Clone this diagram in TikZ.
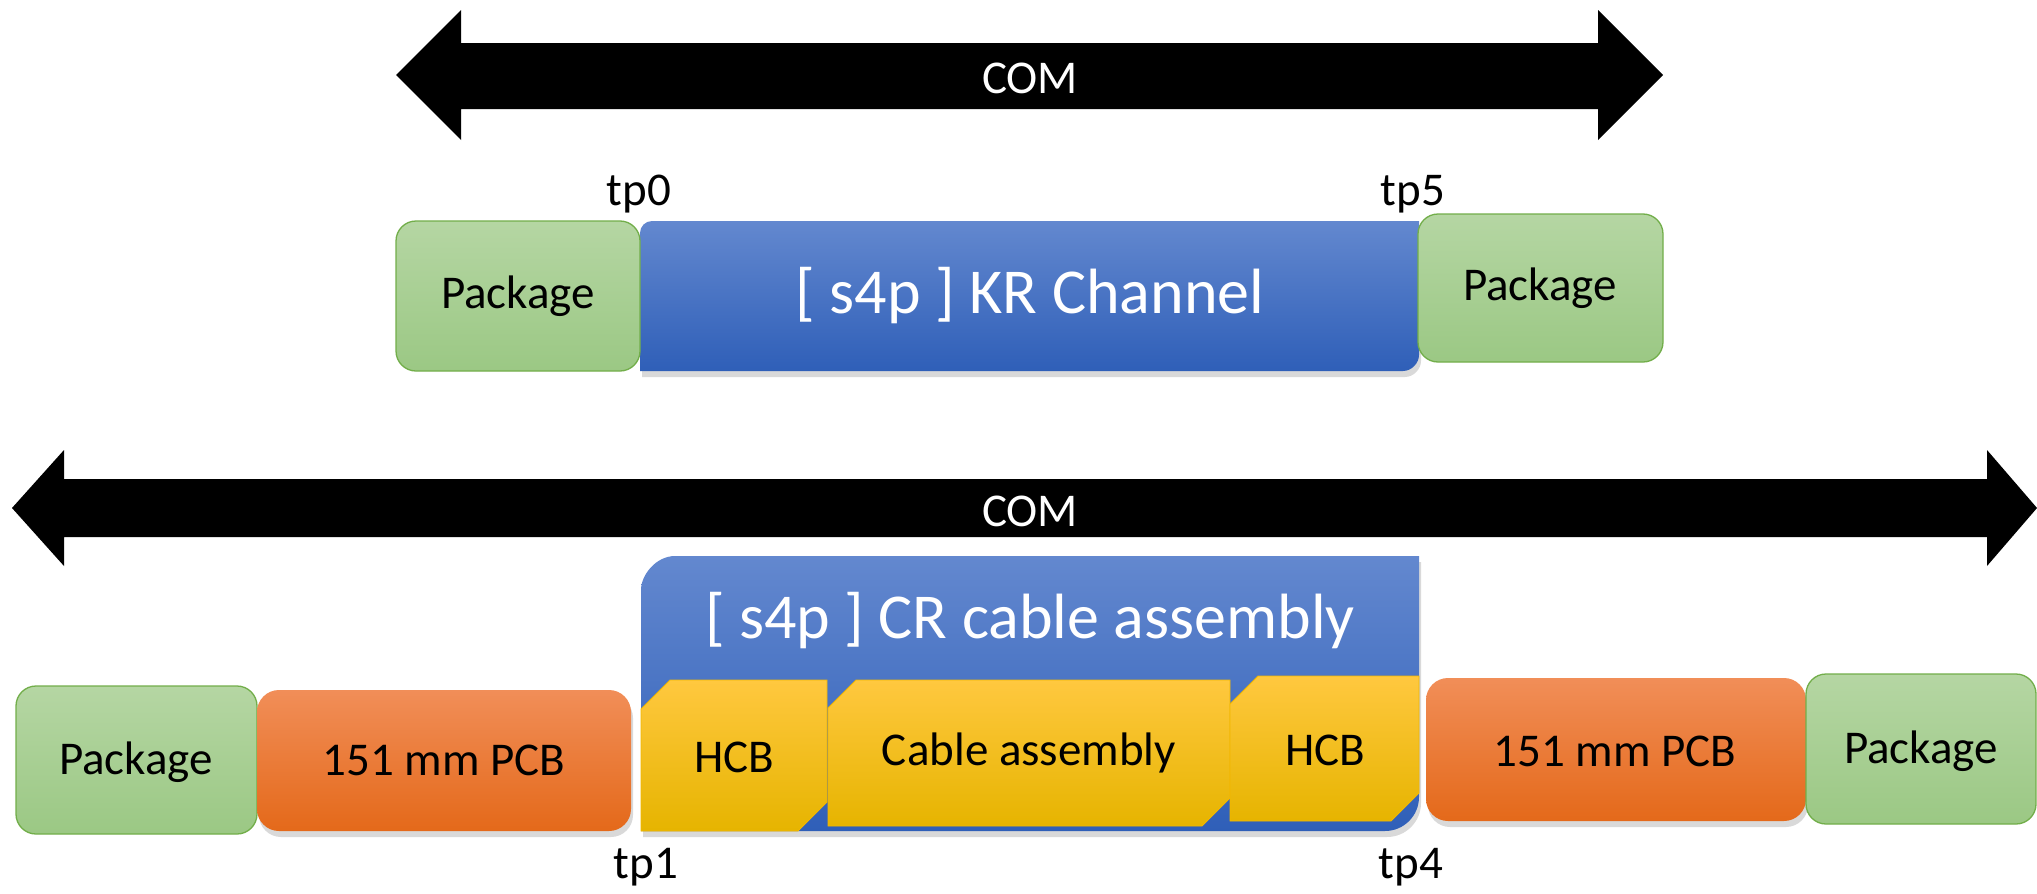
\documentclass[tikz,border=0pt]{standalone}
\usepackage{fontspec}
\setmainfont{Carlito}
\usetikzlibrary{shadows}
\definecolor{gTop}{HTML}{B5D6A3}
\definecolor{gBot}{HTML}{9BC884}
\definecolor{gLine}{HTML}{72AE4A}
\definecolor{bTop}{HTML}{6388CF}
\definecolor{bBot}{HTML}{2F5FB8}
\definecolor{oTop}{HTML}{F18E58}
\definecolor{oMid}{HTML}{F47B2B}
\definecolor{oBot}{HTML}{E4691A}
\definecolor{yTop}{HTML}{FFC83F}
\definecolor{yMid}{HTML}{FFC000}
\definecolor{yBot}{HTML}{E6B400}
\definecolor{yLine}{HTML}{F2B700}
\tikzset{
  lbl/.style={font=\fontsize{47}{56}\selectfont, inner sep=0pt},
  biglbl/.style={font=\fontsize{64}{76}\selectfont, inner sep=0pt, text=white},
  pkgbox/.style={rounded corners=20pt, draw=gLine, line width=1.3pt, top color=gTop, bottom color=gBot},
  pcbbox/.style={rounded corners=22pt, top color=oTop, middle color=oMid, bottom color=oBot,
     drop shadow={opacity=0.3, shadow xshift=2pt, shadow yshift=-6pt}},
  bluebox/.style={top color=bTop, bottom color=bBot,
     drop shadow={opacity=0.3, shadow xshift=2pt, shadow yshift=-6pt}},
  hcbbox/.style={draw=yLine, line width=0.8pt, top color=yTop, middle color=yMid, bottom color=yBot},
  bigarrow/.style={fill=black}
}
\begin{document}
\begin{tikzpicture}[x=1pt,y=-1pt]
\useasboundingbox (0,0) rectangle (2037,894);

% ---- top COM arrow
\fill[bigarrow] (396,75) -- (461,10) -- (461,43) -- (1598,43) -- (1598,10) -- (1663,75)
  -- (1598,140) -- (1598,109) -- (461,109) -- (461,140) -- cycle;
\node[lbl, text=white] (comA) at (1030,78) {COM};

% ---- top row
\path[bluebox] (640,371) -- (640,233) .. controls (640,226.4) and (645.4,221) .. (652,221)
  -- (1419,221) -- (1419,355) .. controls (1419,362.8) and (1411.8,371) .. (1403,371) -- cycle;
\node[biglbl] (kr) at (1030,296) {[ s4p ] KR Channel};
\path[pkgbox] (396,221) rectangle (640,371);
\node[lbl] (pkgA) at (518,296) {Package};
\path[pkgbox] (1418,214) rectangle (1663,362);
\node[lbl] (pkgB) at (1540,288) {Package};
\node[lbl] (tp0) at (639,194) {tp0};
\node[lbl] (tp5) at (1413,194) {tp5};

% ---- bottom COM arrow
\fill[bigarrow] (12,508) -- (64,450) -- (64,479) -- (1987,479) -- (1987,450) -- (2037,508)
  -- (1987,566) -- (1987,537) -- (64,537) -- (64,566) -- cycle;
\node[lbl, text=white] (comB) at (1030,511) {COM};

% ---- bottom row
\path[pkgbox] (16,686) rectangle (257,834);
\node[lbl] (pkgC) at (136,762) {Package};
\path[pcbbox] (257,690) rectangle (631,831);
\node[lbl] (pcbA) at (444,760) {151 mm PCB};

\path[bluebox] (641,831) -- (641,590) .. controls (641,574.8) and (656.2,556) .. (675,556)
  -- (1419,556) -- (1419,797) .. controls (1419,815.8) and (1403.8,831) .. (1385,831) -- cycle;
\node[biglbl] (cr) at (1030,621) {[ s4p ] CR cable assembly};

\path[hcbbox] (641,709) -- (670,680) -- (827,680) -- (827,802) -- (798,831) -- (641,831) -- cycle;
\node[lbl] (hcbA) at (734,757) {HCB};
\path[hcbbox] (828,708) -- (856,680) -- (1230,680) -- (1230,798) -- (1202,826) -- (828,826) -- cycle;
\node[lbl] (cab) at (1029,753) {Cable assembly};
\path[hcbbox] (1230,704) -- (1258,676) -- (1419,676) -- (1419,793) -- (1391,821) -- (1230,821) -- cycle;
\node[lbl] (hcbB) at (1325,750) {HCB};

\path[pcbbox] (1426,678) rectangle (1806,821);
\node[lbl] (pcbB) at (1615,751) {151 mm PCB};
\path[pkgbox] (1806,674) rectangle (2036,824);
\node[lbl] (pkgD) at (1921,751) {Package};

\node[lbl] (tp1) at (646,867) {tp1};
\node[lbl] (tp4) at (1411,867) {tp4};
\end{tikzpicture}
\end{document}
